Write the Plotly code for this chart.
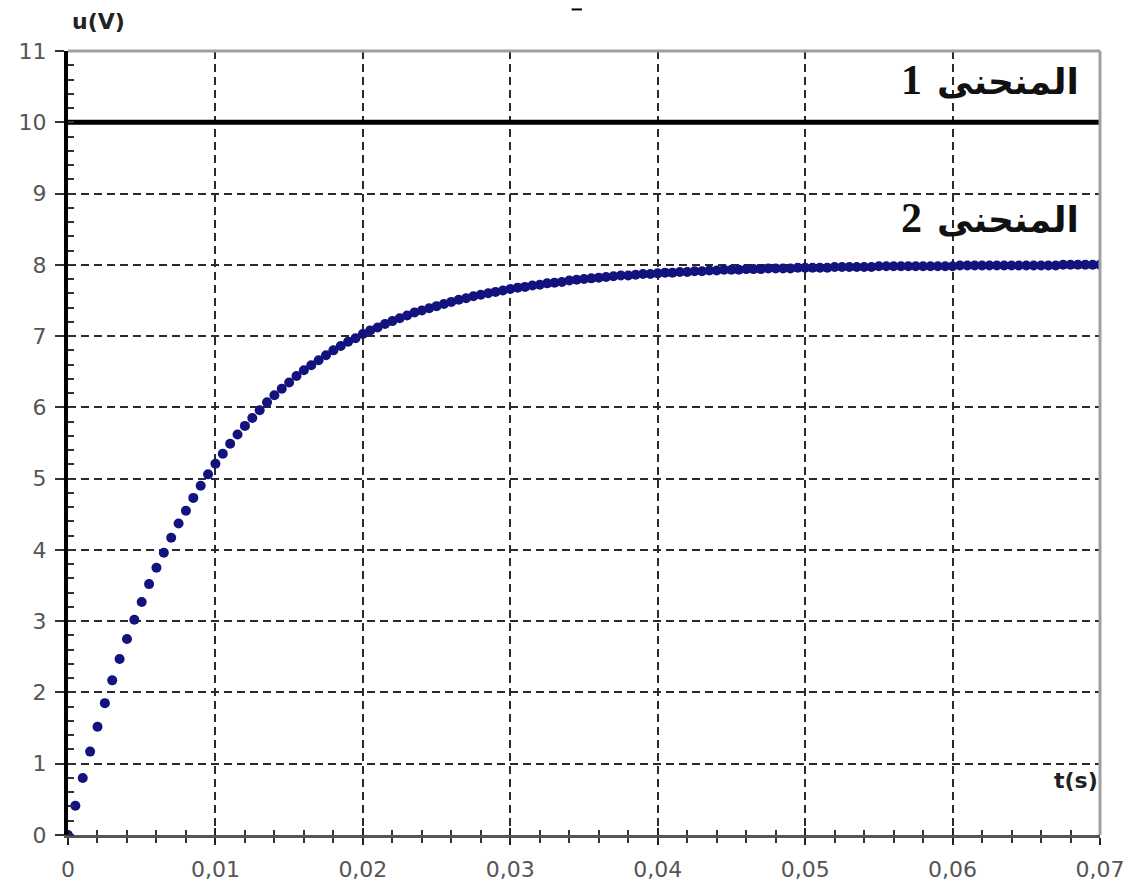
import plotly.graph_objects as go

# ---- data ----
t_step = 0.0005
u_curve2 = [0.00, 0.41, 0.80, 1.17, 1.52, 1.85, 2.17, 2.47, 2.75, 3.02,
            3.27, 3.52, 3.75, 3.96, 4.17, 4.37, 4.55, 4.73, 4.90, 5.06,
            5.21, 5.35, 5.49, 5.62, 5.74, 5.85, 5.96, 6.07, 6.17, 6.26,
            6.35, 6.44, 6.52, 6.59, 6.66, 6.73, 6.80, 6.86, 6.92, 6.97,
            7.03, 7.08, 7.12, 7.17, 7.21, 7.25, 7.29, 7.33, 7.36, 7.39,
            7.42, 7.45, 7.48, 7.51, 7.53, 7.56, 7.58, 7.60, 7.62, 7.64,
            7.66, 7.68, 7.69, 7.71, 7.72, 7.74, 7.75, 7.76, 7.78, 7.79,
            7.80, 7.81, 7.82, 7.83, 7.84, 7.85, 7.85, 7.86, 7.87, 7.87,
            7.88, 7.89, 7.89, 7.90, 7.90, 7.91, 7.91, 7.92, 7.92, 7.93,
            7.93, 7.93, 7.94, 7.94, 7.94, 7.95, 7.95, 7.95, 7.95, 7.96,
            7.96, 7.96, 7.96, 7.96, 7.97, 7.97, 7.97, 7.97, 7.97, 7.97,
            7.98, 7.98, 7.98, 7.98, 7.98, 7.98, 7.98, 7.98, 7.98, 7.98,
            7.98, 7.99, 7.99, 7.99, 7.99, 7.99, 7.99, 7.99, 7.99, 7.99,
            7.99, 7.99, 7.99, 7.99, 7.99, 8.00, 8.00, 8.00, 8.00, 8.00,
            8.00]
t_curve2 = [round(i * t_step, 5) for i in range(len(u_curve2))]

t_curve1 = [0.0, 0.07]
u_curve1 = [10, 10]

x_tickvals = [0, 0.01, 0.02, 0.03, 0.04, 0.05, 0.06, 0.07]
x_ticktext = ["0", "0,01", "0,02", "0,03", "0,04", "0,05", "0,06", "0,07"]
y_tickvals = list(range(0, 12))
y_ticktext = [str(v) for v in y_tickvals]

arabic_word = "المنحنى"
label1 = ('<b><span style="font-size:42px">1</span>'
          '<span style="font-size:30px">  </span>' + arabic_word + '</b>')
label2 = ('<b><span style="font-size:42px">2</span>'
          '<span style="font-size:30px">  </span>' + arabic_word + '</b>')

fig = go.Figure()
fig.add_trace(go.Scatter(x=t_curve2, y=u_curve2, mode="markers",
                         marker=dict(size=10, color="#13137f", line=dict(width=0)),
                         showlegend=False, hoverinfo="skip"))
fig.add_trace(go.Scatter(x=t_curve1, y=u_curve1, mode="lines", xaxis="x2",
                         line=dict(color="black", width=5),
                         showlegend=False, hoverinfo="skip"))

tickfont = dict(family="DejaVu Sans, Arial, sans-serif", size=22, color="#555555")
grid_common = dict(showgrid=True, gridcolor="#2a2a2a", gridwidth=1.6, griddash="8px,5px")

fig.update_layout(
    width=1137, height=893,
    margin=dict(l=60, r=45, t=43, b=66),
    paper_bgcolor="white", plot_bgcolor="white",
    xaxis=dict(range=[0, 0.07], tickvals=x_tickvals, ticktext=x_ticktext,
               tickfont=tickfont, ticks="outside", ticklen=7, tickwidth=2,
               tickcolor="#222222", ticklabelstandoff=6,
               minor=dict(dtick=0.002, tick0=0, ticks="outside", ticklen=5,
                          tickwidth=1.5, tickcolor="#333333", showgrid=False),
               showline=True, linecolor="#555555", linewidth=3,
               zeroline=False, **grid_common),
    xaxis2=dict(range=[0, 0.07], overlaying="x", anchor="y", side="bottom",
                tickvals=x_tickvals, showticklabels=False,
                ticks="inside", ticklen=7, tickwidth=2, tickcolor="#222222",
                minor=dict(dtick=0.002, tick0=0, ticks="inside", ticklen=5,
                           tickwidth=1.5, tickcolor="#333333"),
                showgrid=False, zeroline=False, showline=False),
    yaxis=dict(range=[0, 11], tickvals=y_tickvals, ticktext=y_ticktext,
               tickfont=tickfont, ticks="outside", ticklen=9, tickwidth=2,
               tickcolor="#333333", ticklabelstandoff=4,
               minor=dict(dtick=0.2, tick0=0, ticks="inside", ticklen=6,
                          tickwidth=1.5, tickcolor="#333333", showgrid=False),
               showline=True, linecolor="black", linewidth=4,
               zeroline=False, **grid_common),
    shapes=[
        dict(type="line", xref="paper", yref="paper", x0=0, x1=1, y0=1, y1=1,
             line=dict(color="#a0a0a0", width=3)),
        dict(type="line", xref="paper", yref="paper", x0=1, x1=1, y0=0, y1=1,
             line=dict(color="#a0a0a0", width=3)),
        dict(type="line", xref="paper", yref="paper", x0=0.488, x1=0.498,
             y0=1.053, y1=1.053, line=dict(color="black", width=2)),
    ],
    annotations=[
        dict(text="<b>u(V)</b>", xref="paper", yref="paper", x=0.002, y=1.037,
             xanchor="left", yanchor="middle", showarrow=False,
             font=dict(family="DejaVu Sans, Arial, sans-serif", size=22, color="#222222")),
        dict(text="<b>t(s)</b>", xref="paper", yref="y", x=1.0, y=0.77,
             xanchor="right", yanchor="middle", showarrow=False,
             font=dict(family="DejaVu Sans, Arial, sans-serif", size=22, color="#222222")),
        dict(text=label1, x=0.0687, y=10.6, xanchor="right", yanchor="middle",
             showarrow=False,
             font=dict(family="Liberation Serif, DejaVu Sans", size=36, color="#111111")),
        dict(text=label2, x=0.0687, y=8.65, xanchor="right", yanchor="middle",
             showarrow=False,
             font=dict(family="Liberation Serif, DejaVu Sans", size=36, color="#111111")),
    ],
)

fig.write_html("out.html")
